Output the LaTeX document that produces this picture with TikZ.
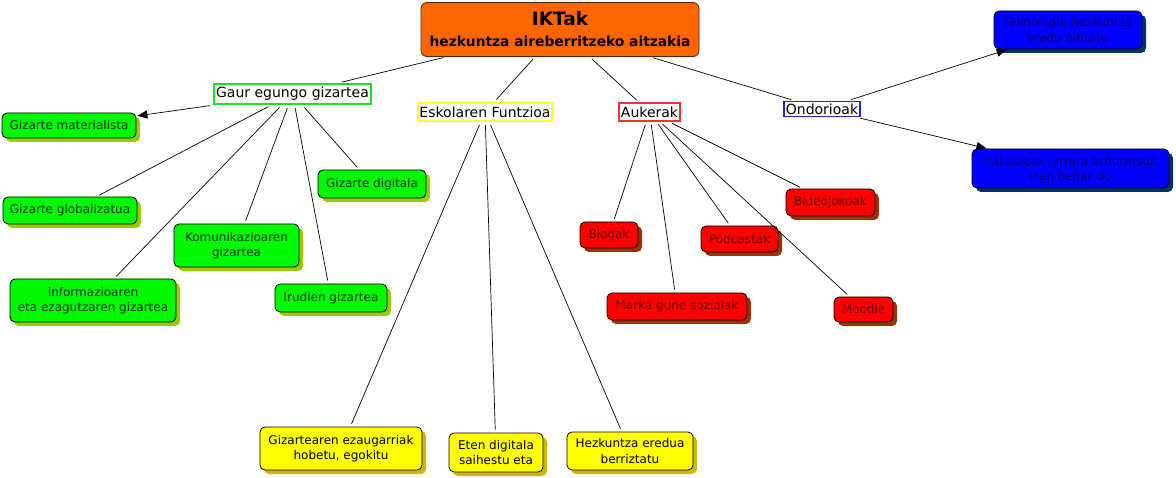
\documentclass[tikz,border=0pt]{standalone}
\usepackage{fontspec}
\setmainfont{DejaVu Sans}
\usetikzlibrary{arrows.meta,shadows}
\definecolor{gfill}{HTML}{00F800}
\definecolor{gshadow}{HTML}{99CC00}
\definecolor{gtext}{HTML}{003300}
\definecolor{yfill}{HTML}{FFFF00}
\definecolor{yshadow}{HTML}{CCB800}
\definecolor{rfill}{HTML}{FF0000}
\definecolor{rshadow}{HTML}{993300}
\definecolor{rtext}{HTML}{660000}
\definecolor{bfill}{HTML}{0000FF}
\definecolor{bshadow}{HTML}{003366}
\definecolor{btext}{HTML}{000070}
\definecolor{ofill}{HTML}{FF6600}
\definecolor{oborder}{HTML}{552200}
\definecolor{gborder}{HTML}{22DD22}
\definecolor{yborder}{HTML}{FFFF33}
\definecolor{rborder}{HTML}{EE3333}
\definecolor{bborder}{HTML}{2222DD}
\tikzset{
  leaf/.style={draw=black, line width=0.8pt, rounded corners=5pt, inner sep=0pt, align=center,
     font=\fontsize{12}{15.5}\selectfont},
  gleaf/.style={leaf, fill=gfill, text=gtext, drop shadow={shadow xshift=4pt, shadow yshift=-4pt, fill=gshadow, opacity=1}},
  yleaf/.style={leaf, fill=yfill, text=black, drop shadow={shadow xshift=4pt, shadow yshift=-4pt, fill=yshadow, opacity=1}},
  rleaf/.style={leaf, fill=rfill, text=rtext, drop shadow={shadow xshift=4pt, shadow yshift=-4pt, fill=rshadow, opacity=1}},
  bleaf/.style={leaf, fill=bfill, text=btext, drop shadow={shadow xshift=4pt, shadow yshift=-4pt, fill=bshadow, opacity=1}},
  cat/.style={fill=white, inner sep=0pt, font=\fontsize{14}{16}\selectfont},
  link/.style={line width=0.7pt, shorten <=3pt, shorten >=3pt},
  arr/.style={link, -{Triangle[length=10pt,width=8pt]}, shorten >=1pt}
}
\begin{document}
\begin{tikzpicture}[x=1pt,y=-1pt]
\path[use as bounding box] (0,0) rectangle (1176,478);
% root
\node[draw=oborder, line width=0.8pt, fill=ofill, rounded corners=6pt, minimum width=278pt, minimum height=54pt, inner sep=0pt, align=center]
  (root) at (560,29.5) {{\fontsize{18.5}{20}\selectfont\bfseries IKTak}\\[9pt]{\fontsize{13.8}{16}\selectfont\bfseries hezkuntza aireberritzeko aitzakia}};
% categories
\node[cat, draw=gborder, line width=2.5pt, minimum width=157pt, minimum height=20pt] (gaur) at (292.5,94) {Gaur egungo gizartea};
\node[cat, draw=yborder, line width=2.5pt, minimum width=134pt, minimum height=18pt] (esk) at (485,112) {Eskolaren Funtzioa};
\node[cat, draw=rborder, line width=2pt, minimum width=61pt, minimum height=18pt] (auk) at (649.5,112) {Aukerak};
\node[cat, draw=bborder, line width=1.8pt, minimum width=76pt, minimum height=15pt] (ond) at (822,109) {Ondorioak};
% green
\node[gleaf, minimum width=134pt, minimum height=25pt] (mat) at (69,125.5) {Gizarte materialista};
\node[gleaf, minimum width=134pt, minimum height=27pt] (glob) at (70,210.5) {Gizarte globalizatua};
\node[gleaf, minimum width=125pt, minimum height=43pt] (kom) at (236.5,245.5) {Komunikazioaren\\gizartea};
\node[gleaf, minimum width=166pt, minimum height=43pt] (inf) at (93,300.5) {Informazioaren\\eta ezagutzaren gizartea};
\node[gleaf, minimum width=112pt, minimum height=28pt] (irud) at (331,298) {Irudien gizartea};
\node[gleaf, minimum width=108pt, minimum height=28pt] (dig) at (372,184) {Gizarte digitala};
% yellow
\node[yleaf, minimum width=162pt, minimum height=43pt] (giz) at (341,448.5) {Gizartearen ezaugarriak\\hobetu, egokitu};
\node[yleaf, minimum width=94pt, minimum height=39pt] (eten) at (496,452.5) {Eten digitala\\saihestu eta};
\node[yleaf, minimum width=126pt, minimum height=38pt] (hez) at (630,451) {Hezkuntza eredua\\berriztatu};
% red
\node[rleaf, minimum width=58pt, minimum height=26pt] (blog) at (609,235) {Blogak};
\node[rleaf, minimum width=140pt, minimum height=27pt] (marka) at (677,306.5) {Marka gune sozialak};
\node[rleaf, minimum width=77pt, minimum height=26pt] (pod) at (739.5,239) {Podcastak};
\node[rleaf, minimum width=89pt, minimum height=27pt] (bid) at (830.5,202.5) {Bideojokoak};
\node[rleaf, minimum width=59pt, minimum height=25pt] (mood) at (863.5,309.5) {Moodle};
% blue
\node[bleaf, minimum width=148pt, minimum height=38pt] (tek) at (1068,30) {Teknologia hezkuntza\\eredu bihurtu};
\node[bleaf, minimum width=197pt, minimum height=39pt] (irak) at (1070.5,168.5) {Irakasleak jarrera arduratsua\\izan behar du};
% connectors
\draw[link] (root) -- (gaur);
\draw[link] (root) -- (esk);
\draw[link] (root) -- (auk);
\draw[link] (root) -- (ond);
\draw[arr] (gaur) -- (mat);
\draw[link] (gaur) -- (glob);
\draw[link] (gaur) -- (inf);
\draw[link] (gaur) -- (kom);
\draw[link] (gaur) -- (irud);
\draw[link] (gaur) -- (dig);
\draw[link] (esk) -- (giz);
\draw[link] (esk) -- (eten);
\draw[link] (esk) -- (hez);
\draw[link] (auk) -- (blog);
\draw[link] (auk) -- (marka);
\draw[link] (auk) -- (pod);
\draw[link] (auk) -- (mood);
\draw[link] (auk) -- (bid);
\draw[arr] (ond) -- (tek);
\draw[arr] (ond) -- (irak);
\end{tikzpicture}
\end{document}
